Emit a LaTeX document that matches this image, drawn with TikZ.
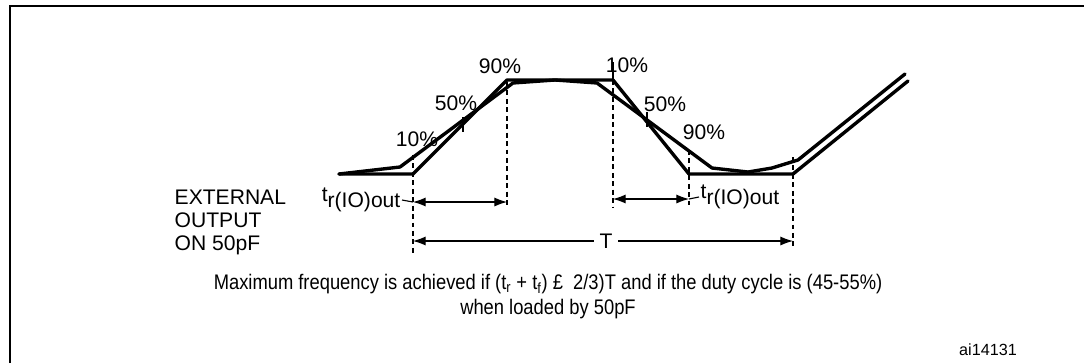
\documentclass[tikz,border=0pt]{standalone}
\usepackage{fontspec}
\setmainfont{Liberation Sans}
\usetikzlibrary{arrows.meta}

\begin{document}
\begin{tikzpicture}
% Timing figure, one unit = one pixel of the layout
\def\px{0.025cm}
\providecommand{\wfLineWidth}{2.4pt}
\providecommand{\guideLineWidth}{0.8pt}
\providecommand{\frameLineWidth}{2pt}
\tikzset{
  wave/.style={line width=\wfLineWidth, line join=round, line cap=round},
  guide/.style={line width=\guideLineWidth, dash pattern=on 3.5pt off 2.5pt},
  thinline/.style={line width=\guideLineWidth},
  dimline/.style={line width=\guideLineWidth, {Latex[length=9pt,width=6.5pt]}-{Latex[length=9pt,width=6.5pt]}},
  lbl/.style={font=\fontsize{15}{17}\selectfont, inner sep=1pt},
}
\begin{scope}[x=\px, y=-\px]
  \useasboundingbox (0,0) rectangle (1084,363);
  % Frame, open at right and bottom
  \draw[line width=\frameLineWidth] (10,363) -- (10,6) -- (1084,6);
  % Ideal waveform corners
  \coordinate (i0) at (339,174);
  \coordinate (i1) at (413,174);
  \coordinate (i2) at (507,80);
  \coordinate (i3) at (613,80);
  \coordinate (i4) at (689,174);
  \coordinate (i5) at (793,174);
  \coordinate (i6) at (908,81);
  % Ideal waveform
  \draw[wave] (i0) -- (i1) -- (i2) -- (i3) -- (i4) -- (i5) -- (i6);
  % Loaded waveform
  \draw[wave] (339,174) -- (400,167) -- (513,83) -- (555,80) -- (597,83)
    -- (712,168) -- (748,172) -- (772,168) -- (798,160) -- (905,74);
  % Ticks at the 50% and 10% points
  \draw[thinline] (463,117) -- (463,132);
  \draw[thinline] (647,112) -- (647,127);
  \draw[thinline] (613,62) -- (613,80);
  % Dashed guides
  \draw[guide] (413,155) -- (413,255);
  \draw[guide] (507,82) -- (507,207);
  \draw[guide] (613,80) -- (613,208);
  \draw[guide] (689,150) -- (689,205);
  \draw[guide] (793,157) -- (793,247);
  % Level labels
  \node[lbl] (riseTen) at (417,139) {10\%};
  \node[lbl] (riseFifty) at (456,103) {50\%};
  \node[lbl] (riseNinety) at (500,66) {90\%};
  \node[lbl] (fallTen) at (627,65) {10\%};
  \node[lbl] (fallFifty) at (665,104) {50\%};
  \node[lbl] (fallNinety) at (704,132) {90\%};
  % Rise time, left
  \coordinate (riseA) at (413,202);
  \coordinate (riseB) at (507,202);
  \node[lbl, anchor=east] (riseLbl) at (402,200) {t\raisebox{-4pt}{r(IO)out}};
  \draw[thinline] (riseLbl.east) -- (riseA);
  \draw[dimline] (riseA) -- (riseB);
  % Rise time, right
  \coordinate (fallA) at (613,199);
  \coordinate (fallB) at (689,199);
  \node[lbl, anchor=west] (fallLbl) at (699,197) {t\raisebox{-4pt}{r(IO)out}};
  \draw[dimline] (fallA) -- (fallB);
  \draw[thinline] (fallB) -- (fallLbl.west);
  % Period
  \coordinate (perA) at (413,241);
  \coordinate (perB) at (793,241);
  \node[lbl, inner sep=4pt] (perLbl) at (606,241) {T};
  \draw[thinline, {Latex[length=9pt,width=6.5pt]}-] (perA) -- (perLbl.west);
  \draw[thinline, -{Latex[length=9pt,width=6.5pt]}] (perLbl.east) -- (perB);
  % Load label
  \node[lbl, anchor=north west, align=left, font=\fontsize{15}{16.5}\selectfont] (loadLbl) at (173,188)
    {EXTERNAL\\OUTPUT\\ON 50pF};
  % Caption
  \node[lbl] (capOne) at (548,284)
    {\scalebox{0.87}[1]{Maximum frequency is achieved if (t\textsubscript{r} + t\textsubscript{f}) £~~2/3)T and if the duty cycle is (45-55\%)}};
  \node[lbl] (capTwo) at (548,309) {\scalebox{0.87}[1]{when loaded by 50pF}};
  \node[lbl, font=\fontsize{11.5}{13}\selectfont] (figId) at (988,350) {ai14131};
\end{scope}
\end{tikzpicture}
\end{document}
